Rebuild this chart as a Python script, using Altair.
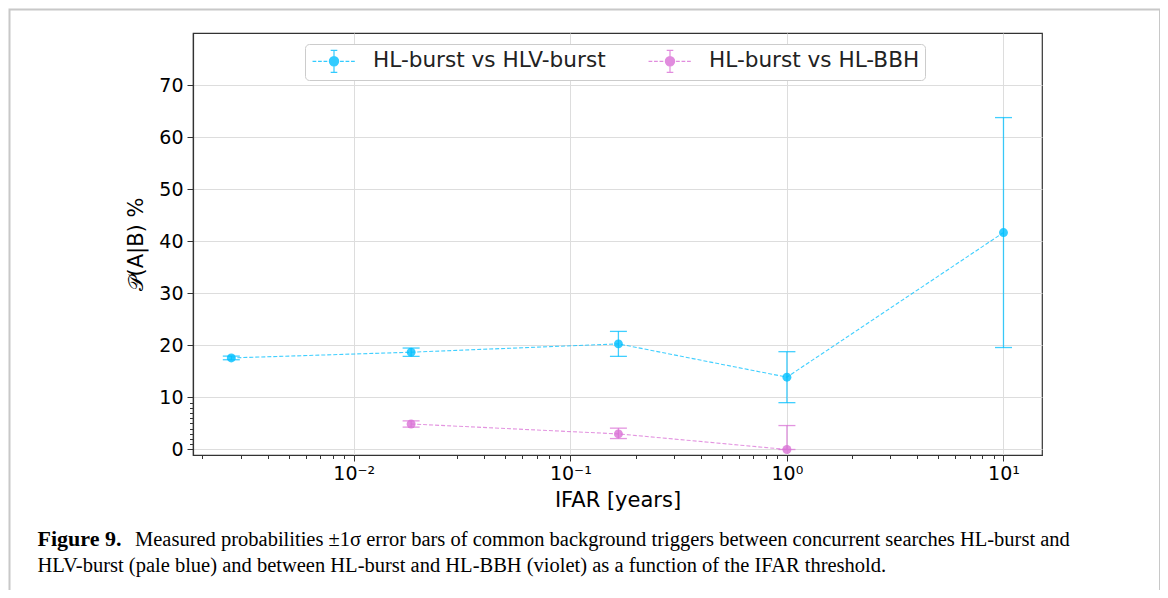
import altair as alt
import pandas as pd

# ---- data ----
series_names = ["HL-burst vs HLV-burst", "HL-burst vs HL-BBH"]
series_colors = ["#00bfff", "#da70d6"]

ifar_blue = [0.00272, 0.0184, 0.1667, 1.0, 10.0]
prob_blue = [17.6, 18.7, 20.3, 13.9, 41.7]
low_blue = [17.25, 17.9, 17.9, 9.0, 19.6]
high_blue = [17.95, 19.5, 22.7, 18.8, 63.8]

ifar_violet = [0.0184, 0.1667, 1.0]
prob_violet = [4.9, 3.0, 0.0]
low_violet = [4.3, 2.1, 0.0]
high_violet = [5.5, 4.1, 4.6]

x_major_ticks = [0.01, 0.1, 1, 10]
x_minor_ticks = [k * 10.0 ** d for d in (-3, -2, -1, 0) for k in range(2, 10)]
y_ticks = [0, 10, 20, 30, 40, 50, 60, 70]
y_minor_ticks = [1, 2, 3, 4, 5, 6, 7, 8, 9]

caption_bold = "Figure 9."
caption_line1 = ("Measured probabilities \u00b11\u03c3 error bars of common background triggers "
                 "between concurrent searches HL-burst and")
caption_line2 = ("HLV-burst (pale blue) and between HL-burst and HL-BBH (violet) as a function "
                 "of the IFAR threshold.")

# ---- tables ----
rows = []
for x, y, lo, hi in zip(ifar_blue, prob_blue, low_blue, high_blue):
    rows.append({"series": series_names[0], "x": x, "y": y, "lo": lo, "hi": hi})
for x, y, lo, hi in zip(ifar_violet, prob_violet, low_violet, high_violet):
    rows.append({"series": series_names[1], "x": x, "y": y, "lo": lo, "hi": hi})
df = pd.DataFrame(rows)

W, H = 849, 422
FONT = "DejaVu Sans"
CAPFONT = "Liberation Serif"
CAPSIZE = 20.5

xscale = alt.Scale(type="log", domain=[0.00181, 15.06], nice=False)
yscale = alt.Scale(domain=[-1.06, 80.06], nice=False, zero=False)
cscale = alt.Scale(domain=series_names, range=series_colors)

# legend symbol: dashed line + error bar + (ring-filled) dot, unit-square path
dash_parts = []
pos = -1.95
while pos < 1.95:
    end = min(pos + 0.34, 1.95)
    dash_parts.append(f"M{pos:.3f},0L{end:.3f},0")
    pos += 0.50
rings = []
for r in (0.42, 0.32, 0.22, 0.12):
    rings.append(f"M{r},0A{r},{r} 0 1,1 -{r},0A{r},{r} 0 1,1 {r},0")
symbol_path = (" ".join(dash_parts) +
               " M0,-1L0,1 M-0.3,-1L0.3,-1 M-0.3,1L0.3,1 " + " ".join(rings))

major_labels = ("datum.value < 0.05 ? '10\u207b\u00b2' : datum.value < 0.5 ? '10\u207b\u00b9' : "
                "datum.value < 5 ? '10\u2070' : '10\u00b9'")

x_axis = alt.Axis(values=x_major_ticks, labelExpr=major_labels, title="IFAR [years]",
                  orient="bottom", grid=True, tickSize=6, labelPadding=3, titlePadding=6)
x_minor_axis = alt.Axis(values=x_minor_ticks, labels=False, grid=False, tickSize=3.5,
                        title=None, orient="bottom", domain=False)
y_axis = alt.Axis(values=y_ticks, title="\U0001D4AB(A|B) %", grid=True, tickSize=6,
                  labelPadding=4, titlePadding=12, orient="left")
y_minor_axis = alt.Axis(values=y_minor_ticks, labels=False, grid=False, tickSize=3.5,
                        title=None, orient="left", domain=False)

leg = alt.Legend(title=None, orient="none", legendX=112, legendY=11, direction="horizontal",
                 symbolType=symbol_path, symbolSize=484, symbolStrokeWidth=1.2,
                 symbolOpacity=0.8, labelFontSize=21.6, labelFont=FONT, labelColor="#222",
                 labelLimit=500, padding=5, columnPadding=40, labelOffset=27, symbolOffset=12,
                 strokeColor="#cccccc", fillColor="white", cornerRadius=4)

color_enc = alt.Color("series:N", scale=cscale, legend=leg)

base = alt.Chart(df)

bars = base.mark_rule(strokeWidth=1.3, opacity=0.75).encode(
    x=alt.X("x:Q", scale=xscale, axis=x_axis),
    y=alt.Y("lo:Q", scale=yscale, axis=y_axis), y2="hi:Q",
    color=color_enc,
)

lines = base.mark_line(strokeDash=[4, 2], strokeWidth=1.1, opacity=0.75).encode(
    x="x:Q", y="y:Q", color=color_enc, detail="series:N",
)
caps_lo = base.mark_tick(orient="horizontal", size=17, thickness=1.3, opacity=0.75).encode(
    x="x:Q", y="lo:Q", color=color_enc)
caps_hi = base.mark_tick(orient="horizontal", size=17, thickness=1.3, opacity=0.75).encode(
    x="x:Q", y="hi:Q", color=color_enc)

points = base.mark_circle(size=80, opacity=0.8).encode(
    x="x:Q", y="y:Q", color=color_enc,
)

main = alt.layer(bars, lines, caps_lo, caps_hi, points)

minor_df = pd.DataFrame({"x": x_minor_ticks[:len(y_minor_ticks)], "y": y_minor_ticks})
minor_x = alt.Chart(pd.DataFrame({"x": x_minor_ticks})).mark_point(opacity=0).encode(
    x=alt.X("x:Q", scale=xscale, axis=x_minor_axis))
minor_y = alt.Chart(pd.DataFrame({"y": y_minor_ticks})).mark_point(opacity=0).encode(
    y=alt.Y("y:Q", scale=yscale, axis=y_minor_axis))

frame = alt.Chart(pd.DataFrame({"a": [0]})).mark_rect(
    fill=None, stroke="#c8c8c8", strokeWidth=2).encode(
    x=alt.value(-183.5), x2=alt.value(967), y=alt.value(-23.5), y2=alt.value(620))

cap_bold = alt.Chart(pd.DataFrame({"t": [caption_bold]})).mark_text(
    align="left", baseline="alphabetic", font=CAPFONT, fontSize=CAPSIZE + 1.5,
    fontWeight="bold", color="black").encode(
    text="t:N", x=alt.value(-155.5), y=alt.value(513))
cap_1 = alt.Chart(pd.DataFrame({"t": [caption_line1]})).mark_text(
    align="left", baseline="alphabetic", font=CAPFONT, fontSize=CAPSIZE,
    color="black").encode(text="t:N", x=alt.value(-58), y=alt.value(513))
cap_2 = alt.Chart(pd.DataFrame({"t": [caption_line2]})).mark_text(
    align="left", baseline="alphabetic", font=CAPFONT, fontSize=CAPSIZE,
    color="black").encode(text="t:N", x=alt.value(-155.5), y=alt.value(539))

chart = alt.layer(frame, main, minor_x, minor_y, cap_bold, cap_1, cap_2
).resolve_axis(x="independent", y="independent").properties(
    width=W, height=H,
    background="white",
    autosize=alt.AutoSizeParams(type="none"),
    padding={"left": 185, "top": 25, "right": 118, "bottom": 135},
).configure_view(stroke="#333333", strokeWidth=1.2).configure_axis(
    labelFont=FONT, titleFont=FONT, labelFontSize=19, titleFontSize=21,
    labelColor="black", titleColor="black", titleFontWeight="normal",
    domainColor="#333333", tickColor="#333333", gridColor="#dddddd", gridWidth=1,
    domainWidth=1.2,
)

chart.save("out.html", embed_options={"renderer": "svg", "actions": False})
